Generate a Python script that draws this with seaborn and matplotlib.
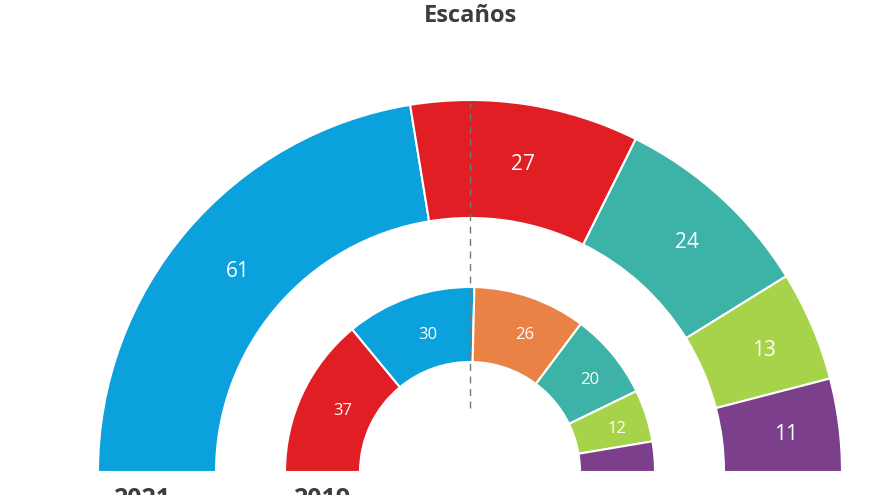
import matplotlib
matplotlib.use("Agg")
import matplotlib.pyplot as plt
import seaborn as sns
import numpy as np

# seats, outer ring (2021) and inner ring (2019)
outer_seats = [61, 27, 24, 13, 11]
outer_colors = ["#0aa1dd", "#e01e24", "#3db3a7", "#a7d34a", "#7c3f8b"]
outer_labels = ["61", "27", "24", "13", "11"]
inner_seats = [37, 30, 26, 20, 12, 7]
inner_colors = ["#e01e24", "#0aa1dd", "#ea8246", "#3db3a7", "#a7d34a", "#7c3f8b"]
inner_labels = ["37", "30", "26", "20", "12", ""]
years = ["2021", "2019"]

sns.set_theme(style="white")
plt.rcParams["font.family"] = ["Open Sans", "DejaVu Sans"]

fig = plt.figure(figsize=(8.8, 4.95), dpi=100)
ax = fig.add_axes([0, 0, 1, 1])

cx, cy = 470, 23


def half_ring(ax, seats, colors, labels, r_out, r_in, fs):
    total = sum(seats)
    vals = seats + [total]
    cols = colors + ["none"]
    wedges, _ = ax.pie(vals, colors=cols, startangle=180, counterclock=False,
                       radius=r_out, center=(cx, cy), frame=True,
                       wedgeprops=dict(width=r_out - r_in, edgecolor="white", linewidth=1.5))
    wedges[-1].set_edgecolor("none")
    rm = (r_out + r_in) / 2
    for w, lab in zip(wedges[:-1], labels):
        a = np.deg2rad((w.theta1 + w.theta2) / 2)
        ax.text(cx + rm * np.cos(a) + 6, cy + rm * np.sin(a) - 2, lab, color="white",
                ha="center", va="center", fontsize=fs)


half_ring(ax, outer_seats, outer_colors, outer_labels, 372, 254, 15)
half_ring(ax, inner_seats, inner_colors, inner_labels, 185, 110, 12)

ax.plot([cx, cx], [87, 392], color="#777777", lw=1, ls=(0, (5, 4)))

ax.text(cx, 479, "Escaños", ha="center", va="center", fontsize=17,
        fontweight="bold", color="#3d3d3d")
ax.text(113, 8, years[0], ha="left", va="top", fontsize=18, fontweight="bold", color="#3d3d3d")
ax.text(293, 8, years[1], ha="left", va="top", fontsize=18, fontweight="bold", color="#3d3d3d")

ax.set_xlim(0, 880)
ax.set_ylim(0, 495)
ax.set_aspect("equal")
ax.axis("off")

fig.savefig("out.png", dpi=100)
